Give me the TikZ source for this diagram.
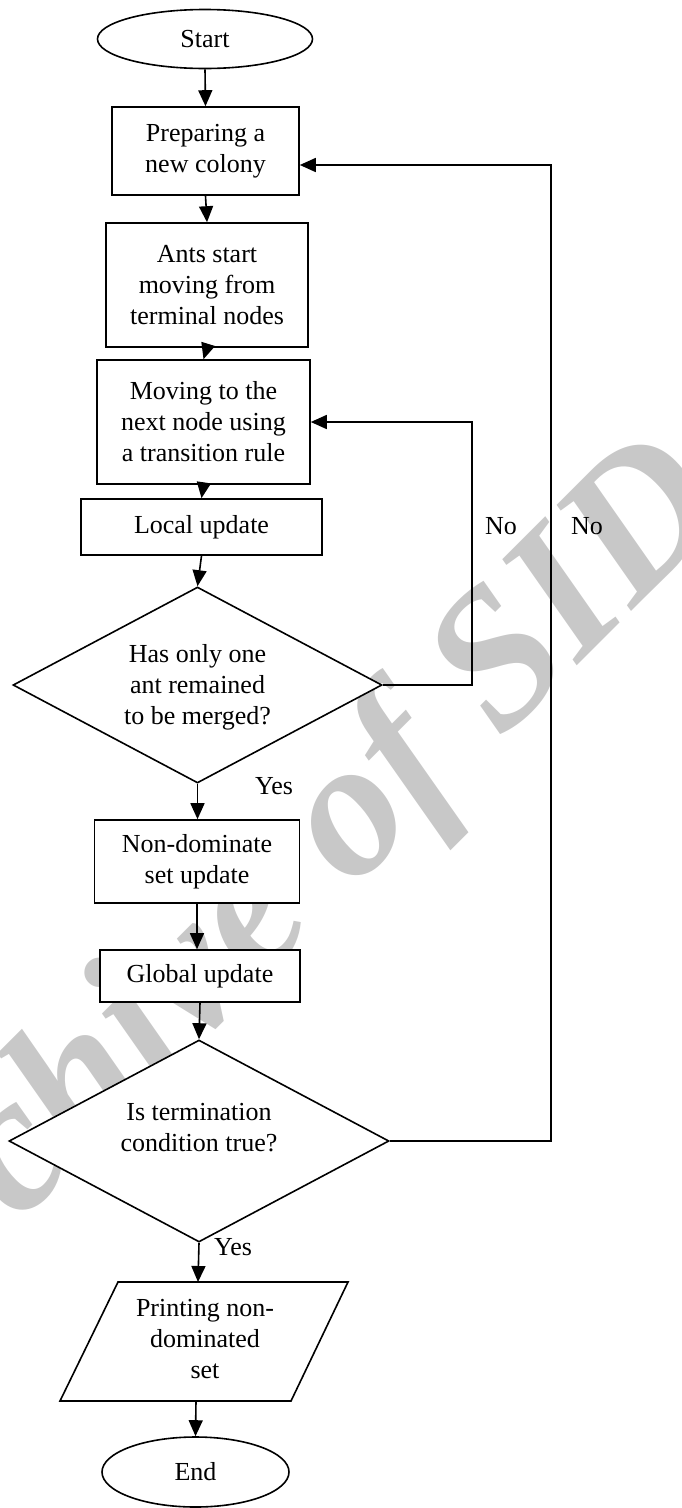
\documentclass[tikz,border=0pt]{standalone}
\usepackage{fontspec}
\setmainfont{Liberation Serif}
\usetikzlibrary{shapes.geometric,arrows.meta,calc}
\definecolor{wmgray}{RGB}{200,200,200}
\tikzset{
  flow/.style={draw, line width=1.6pt, fill=white, inner sep=0pt, align=center},
  box/.style={flow, rectangle},
  term/.style={flow, ellipse},
  decision/.style={flow, diamond},
  arr/.style={line width=1.6pt, -{Triangle[length=16pt,width=14pt]}},
  link/.style={line width=1.6pt},
  lbl/.style={inner sep=0pt},
}
\begin{document}
\begin{tikzpicture}[x=1pt, y=-1pt, font=\fontsize{26}{31}\selectfont]
\useasboundingbox (0,0) rectangle (681,1508);

% background stamp
\begin{scope}
  \clip (0,0) rectangle (681,1508);
  \node[rotate=45, text=wmgray, inner sep=0pt,
        font=\fontsize{195}{195}\selectfont\bfseries\itshape] (wm) at (269,906) {Archive of SID};
\end{scope}

% steps of the algorithm
\node[term, minimum width=215pt, minimum height=59pt] (start) at (205,39) {Start};
\node[box, minimum width=187pt, minimum height=88pt] (prep) at (205.5,151) {Preparing a\\new colony};
\node[box, minimum width=202pt, minimum height=124pt] (ants) at (207,285) {Ants start\\moving from\\terminal nodes};
\node[box, minimum width=213pt, minimum height=124pt] (move) at (203.5,422) {Moving to the\\next node using\\a transition rule};
\node[box, minimum width=241pt, minimum height=56pt] (local) at (201.5,527) {Local update};
\node[decision, minimum width=369pt, minimum height=196pt] (dec1) at (197.5,685) {};
\node[lbl, align=center] (dec1t) at (197.5,687) {Has only one\\ant remained\\to be merged?};
\node[box, minimum width=205pt, minimum height=83pt] (nondom) at (197,861.5) {Non-dominate\\set update};
\node[box, minimum width=200pt, minimum height=52pt] (global) at (200,976) {Global update};
\node[decision, minimum width=380pt, minimum height=202pt] (dec2) at (199,1141) {};
\node[lbl, align=center] (dec2t) at (199,1128) {Is termination\\condition true?};

% output parallelogram
\coordinate (ptop) at (198,1282);
\coordinate (pbot) at (196,1401);
\draw[link, fill=white] (118,1282) -- (348,1282) -- (291,1401) -- (60,1401) -- cycle;
\node[lbl, align=center] (print) at (205,1339) {Printing non-\\dominated\\set};

\node[term, minimum width=187pt, minimum height=70pt] (end) at (195.5,1472) {End};

% loop corners
\coordinate (k1) at (472,685);
\coordinate (k2) at (551,1141);
\coordinate (k3) at (551,165);

% connectors
\draw[arr] (start.south) -- (prep.north);
\draw[arr] (prep.south) -- (ants.north);
\draw[arr] (ants.south) -- (move.north);
\draw[arr] (move.south) -- (local.north);
\draw[arr] (local.south) -- (dec1.north);
\draw[arr] (dec1.east) -- (k1) |- (move.east);
\draw[arr] (dec1.south) -- (dec1.south |- nondom.north);
\draw[arr] (nondom.south) -- (nondom.south |- global.north);
\draw[arr] (global.south) -- (dec2.north);
\draw[arr] (dec2.east) -- (k2) -- (k3) -- (prep.east |- k3);
\draw[arr] (dec2.south) -- (ptop);
\draw[arr] (pbot) -- (end.north);

% branch labels
\node[lbl] (no1) at (501,526) {No};
\node[lbl] (no2) at (587,526) {No};
\node[lbl] (yes1) at (274,786) {Yes};
\node[lbl] (yes2) at (233,1247) {Yes};
\end{tikzpicture}
\end{document}
